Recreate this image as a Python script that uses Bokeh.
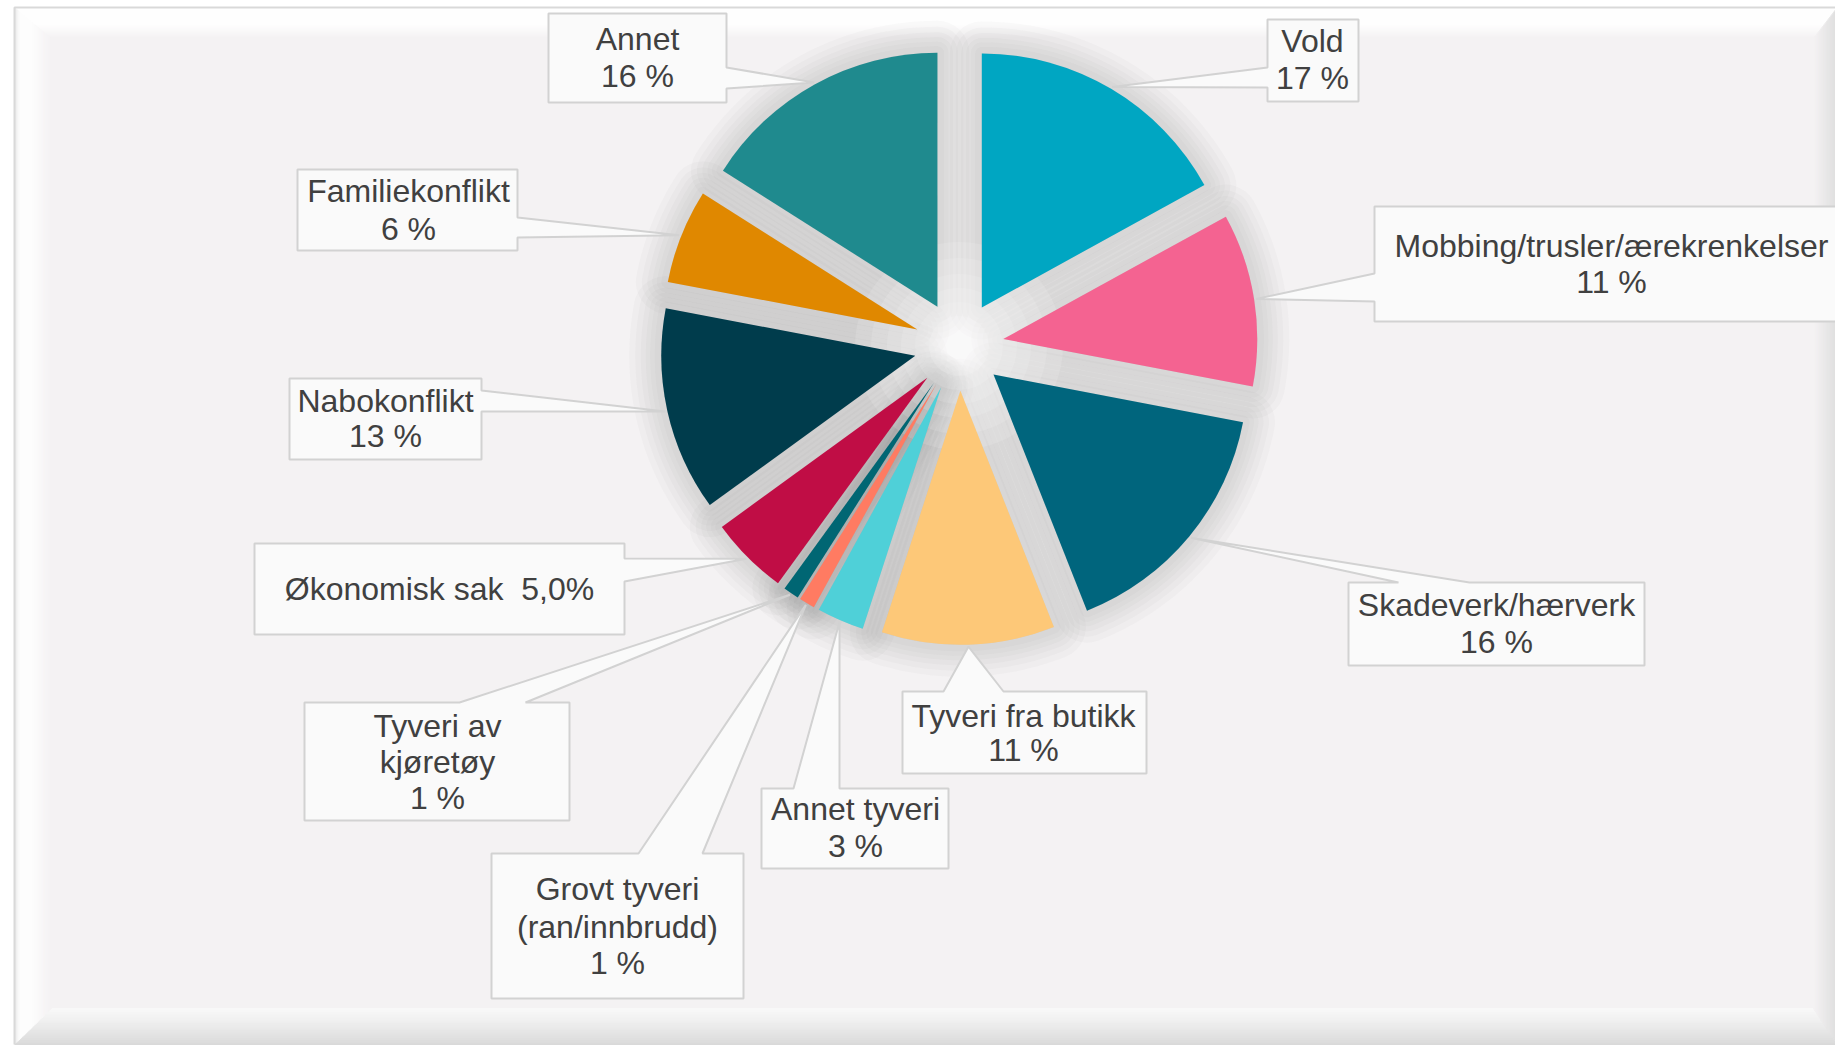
import math
from bokeh.plotting import figure
from bokeh.models import Range1d
from bokeh.embed import file_html
from bokeh.resources import INLINE
from bokeh.core.properties import value

# ---------------- data ----------------
categories = ["Vold", "Mobbing/trusler/ærekrenkelser", "Skadeverk/hærverk",
              "Tyveri fra butikk", "Annet tyveri", "Grovt tyveri (ran/innbrudd)",
              "Tyveri av kjøretøy", "Økonomisk sak", "Nabokonflikt",
              "Familiekonflikt", "Annet"]
shares = [17, 11, 16, 11, 3, 1, 1, 5, 13, 6, 16]
pct_labels = ["17 %", "11 %", "16 %", "11 %", "3 %", "1 %", "1 %", "5,0%", "13 %", "6 %", "16 %"]
name_lines = [["Vold"], ["Mobbing/trusler/ærekrenkelser"], ["Skadeverk/hærverk"],
              ["Tyveri fra butikk"], ["Annet tyveri"], ["Grovt tyveri", "(ran/innbrudd)"],
              ["Tyveri av", "kjøretøy"], ["Økonomisk sak"], ["Nabokonflikt"],
              ["Familiekonflikt"], ["Annet"]]
inline_pct = [False, False, False, False, False, False, False, True, False, False, False]
colors = ["#00A6C2", "#F46391", "#00657D", "#FDC878", "#4FD0D8", "#FF7B62",
          "#006673", "#C00D45", "#003C4C", "#E08800", "#1F8A8E"]

# ---------------- layout ----------------
W, H = 1835, 1045
def Y(sy):
    return H - sy

BG = (244, 242, 243)
CX, CY = 958.5, 345.5      # pie centre (screen px)
R = 254                     # radius
EXPLODE = 44.8

# callout boxes: (x0, y0, x1, y1), side of pointer, base positions, text centre x, line centre ys
boxes = [
    ((1267, 19, 1358, 101), "left", (67, 87), 1312, [42, 79]),
    ((1374, 206, 1860, 321), "left", (273, 301), 1611, [247, 283]),
    ((1348, 582, 1644, 665), "top", (1398, 1469), 1496, [606, 643]),
    ((902, 691, 1146, 773), "top", (943, 1003), 1023, [717, 751]),
    ((761, 788, 948, 868), "top", (793, 839), 855, [810, 847]),
    ((491, 853, 743, 998), "top", (638, 702), 617, [890, 928, 964]),
    ((304, 702, 569, 820), "top", (459, 525), 437, [727, 763, 799]),
    ((254, 543, 624, 634), "right", (558, 581), 439, [590]),
    ((289, 378, 481, 459), "right", (390, 411), 385, [402, 437]),
    ((297, 169, 517, 250), "right", (217, 237), 408, [192, 230]),
    ((548, 13, 726, 102), "right", (67, 88), 637, [40, 77]),
]

def hexc(c):
    return "#%02x%02x%02x" % tuple(int(round(v)) for v in c)

def blend(a, b, f):
    return tuple(a[i] + (b[i] - a[i]) * f for i in range(3))

p = figure(width=W, height=H, x_range=Range1d(0, W), y_range=Range1d(0, H),
           output_backend="svg", toolbar_location=None, min_border=0,
           x_axis_location=None, y_axis_location=None)
p.grid.visible = False
p.outline_line_color = None
p.background_fill_color = "white"
p.border_fill_color = "white"

# ---------------- frame with bevel ----------------
L, T, RR, B = 15, 8, 1836, 1043
Dl, Dt, Dr, Db = 36, 30, 23, 35
p.quad(left=L, right=RR, top=Y(T), bottom=Y(B), fill_color=hexc(BG), line_color=None)

def col_top(t):
    return blend((254, 254, 254), BG, max(0, (t - 0.55) / 0.45))
def col_left(t):
    if t < 0.12:
        return blend((232, 232, 232), (253, 253, 253), t / 0.12)
    return blend((253, 253, 253), BG, max(0, (t - 0.45) / 0.55))
def col_right(t):
    return blend((222, 222, 222), BG, t)
def col_bottom(t):
    if t < 0.6:
        return blend((218, 218, 218), (238, 238, 238), t / 0.6)
    return blend((238, 238, 238), (248, 248, 248), (t - 0.6) / 0.4)

N = 30
bx, by, bc = [], [], []
for k in range(N):
    t0, t1 = k / N, (k + 1) / N
    tm = (t0 + t1) / 2
    # top
    bx.append([L + t0 * Dl, RR - t0 * Dr, RR - t1 * Dr, L + t1 * Dl])
    by.append([Y(T + t0 * Dt), Y(T + t0 * Dt), Y(T + t1 * Dt), Y(T + t1 * Dt)])
    bc.append(hexc(col_top(tm)))
    # bottom
    bx.append([L + t0 * Dl, RR - t0 * Dr, RR - t1 * Dr, L + t1 * Dl])
    by.append([Y(B - t0 * Db), Y(B - t0 * Db), Y(B - t1 * Db), Y(B - t1 * Db)])
    bc.append(hexc(col_bottom(tm)))
    # left
    bx.append([L + t0 * Dl, L + t0 * Dl, L + t1 * Dl, L + t1 * Dl])
    by.append([Y(T + t0 * Dt), Y(B - t0 * Db), Y(B - t1 * Db), Y(T + t1 * Dt)])
    bc.append(hexc(col_left(tm)))
    # right
    bx.append([RR - t0 * Dr, RR - t0 * Dr, RR - t1 * Dr, RR - t1 * Dr])
    by.append([Y(T + t0 * Dt), Y(B - t0 * Db), Y(B - t1 * Db), Y(T + t1 * Dt)])
    bc.append(hexc(col_right(tm)))
p.patches(bx, by, fill_color=bc, line_color=bc, line_width=1)
p.line([L - 1, L - 1, RR + 10], [Y(B + 1), Y(T - 1), Y(T - 1)], line_color="#d9d9d9", line_width=2)
p.line([L - 1, RR + 10], [Y(B + 1), Y(B + 1)], line_color="#d9d9d9", line_width=2)

# ---------------- pie geometry ----------------
total = float(sum(shares))
wx, wy, sa, ea, polys_x, polys_y, mids, centres = [], [], [], [], [], [], [], []
cum = 0.0
for v in shares:
    th1 = cum / total * 360.0
    th2 = (cum + v) / total * 360.0
    mid = (th1 + th2) / 2
    cum += v
    rm = math.radians(mid)
    cx = CX + EXPLODE * math.sin(rm)
    cy = CY - EXPLODE * math.cos(rm)
    wx.append(cx)
    wy.append(Y(cy))
    sa.append(math.radians(90 - th2))
    ea.append(math.radians(90 - th1))
    mids.append(mid)
    centres.append((cx, cy))
    n = max(4, int((th2 - th1) / 2))
    xs = [cx]
    ys = [Y(cy)]
    for i in range(n + 1):
        a = math.radians(th1 + (th2 - th1) * i / n)
        xs.append(cx + R * math.sin(a))
        ys.append(Y(cy - R * math.cos(a)))
    polys_x.append(xs)
    polys_y.append(ys)

# soft shadow
for w in [64, 52, 41, 31, 22, 13]:
    p.patches(polys_x, polys_y, fill_color=None, line_color="#7a7a7a",
              line_alpha=0.035, line_width=w, line_join="round")
p.patches(polys_x, polys_y, fill_color="#7a7a7a", fill_alpha=0.1, line_color=None)

# centre glow
for rr in [16, 30, 44, 58, 72, 88, 104]:
    p.circle(x=[CX], y=[Y(CY)], radius=rr, fill_color="white", fill_alpha=0.13, line_color=None)

# wedges
p.wedge(x=wx, y=wy, radius=R, start_angle=sa, end_angle=ea, direction="anticlock",
        fill_color=colors, line_color=None)

# ---------------- callouts ----------------
cx_list, cy_list = [], []
tx, ty, tt = [], [], []
for idx, (box, side, base, tcx, lys) in enumerate(boxes):
    x0, y0, x1, y1 = box
    cx, cy = centres[idx]
    a = math.radians(mids[idx])
    tip = (cx + (R + 2) * math.sin(a), cy - (R + 2) * math.cos(a))
    b0, b1 = base
    pts = [(x0, y0)]
    if side == "top":
        pts += [(b0, y0), tip, (b1, y0)]
    pts.append((x1, y0))
    if side == "right":
        pts += [(x1, b0), tip, (x1, b1)]
    pts.append((x1, y1))
    pts.append((x0, y1))
    if side == "left":
        pts += [(x0, b1), tip, (x0, b0)]
    cx_list.append([q[0] for q in pts])
    cy_list.append([Y(q[1]) for q in pts])
    if inline_pct[idx]:
        lines = [" ".join(name_lines[idx]) + "\u00a0 " + pct_labels[idx]]
    else:
        lines = name_lines[idx] + [pct_labels[idx]]
    for s, ly in zip(lines, lys):
        tx.append(tcx)
        ty.append(Y(ly - 1.5))
        tt.append(s)

p.patches(cx_list, cy_list, fill_color="#fafafa", line_color="#d2d2d2", line_width=2)
p.text(x=tx, y=ty, text=tt, text_font=value("Liberation Sans"), text_font_size="32px",
       text_color="#404040", text_align="center", text_baseline="alphabetic")

open("out.html", "w").write(file_html(p, INLINE))
